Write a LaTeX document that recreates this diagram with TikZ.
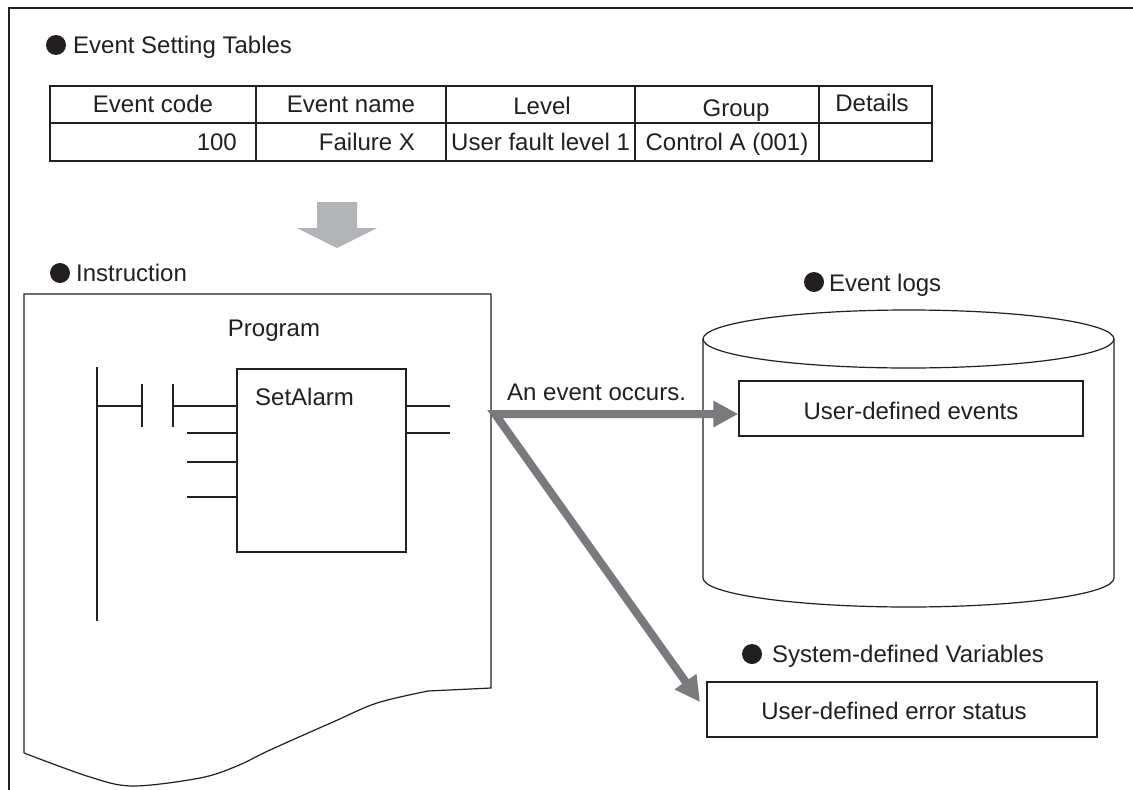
\documentclass[tikz,border=0pt]{standalone}
\usepackage{fontspec}
\setmainfont{Liberation Sans}
\usetikzlibrary{arrows.meta}
\definecolor{ink}{HTML}{231F20}
\definecolor{lgray}{HTML}{B2B4B7}
\definecolor{dgray}{HTML}{797A7E}
\begin{document}
\begin{tikzpicture}[x=1pt,y=-1pt,
  txt/.style={inner sep=0pt, text height=17.2pt, text depth=0pt, font=\fontsize{24}{28}\selectfont, text=ink},
  bul/.style={fill=ink, circle, inner sep=0pt, minimum size=20pt},
  tline/.style={draw=ink, line width=2.2pt},
  thinl/.style={draw=ink, line width=1.2pt},
  boxd/.style={draw=ink, line width=1.5pt},
  fbox/.style={draw=ink, line width=2pt},
  garrow/.style={draw=dgray, line width=8pt, line join=miter,
    {Triangle[length=25pt,width=25pt]}-{Triangle[length=25pt,width=25pt]}},
]
\useasboundingbox (0,0) rectangle (1133,790);
\fill[white] (0,0) rectangle (1133,790);
% outer frame
\draw[ink, line width=2.5pt] (9,790) -- (9,8) -- (1133,8);

% title 1
\node[bul] (b1) at (56,45) {};
\node[txt, anchor=west] (t1) at (73,45) {Event Setting Tables};

% table
\draw[tline] (50,86) rectangle (932,161);
\draw[tline] (50,123) -- (932,123);
\foreach \cx in {256,446,635,819} \draw[tline] (\cx,86) -- (\cx,161);
\node[txt] (h1) at (153,104) {Event code};
\node[txt] (h2) at (351,104) {Event name};
\node[txt] (h3) at (542,106) {Level};
\node[txt] (h4) at (736,108) {Group};
\node[txt] (h5) at (872,103) {Details};
\node[txt, anchor=east] (v1) at (237,142) {100};
\node[txt] (v2) at (367,142) {Failure X};
\node[txt, anchor=west] (v3) at (451,142) {User fault level 1};
\node[txt] (v4) at (727,142) {Control A (001)};

% down arrow
\fill[lgray] (317,202) -- (357,202) -- (357,228) -- (377,228) -- (337,248) -- (297,228) -- (317,228) -- cycle;

% instruction
\node[bul] (b2) at (60,273) {};
\node[txt, anchor=west] (t2) at (76,273) {Instruction};

% program sheet
\draw[thinl, line join=miter] (24,753) -- (24,294) -- (491,294) -- (491,688) -- (428,691)
  -- plot[smooth, tension=0.55] coordinates {(428,691) (377,703) (333,722) (270,750) (237,766) (200,778) (133,786) (90,777) (24,753)};
\node[txt] (prog) at (274,328) {Program};

% ladder
\draw[thinl] (97,367) -- (97,621);
\draw[thinl] (97,406) -- (142,406);
\draw[thinl] (142,384) -- (142,427);
\draw[thinl] (173,384) -- (173,427);
\draw[thinl] (173,406) -- (237,406);
\foreach \yy in {433,462,497} \draw[thinl] (187,\yy) -- (237,\yy);
\foreach \yy in {406,433} \draw[thinl] (406,\yy) -- (450,\yy);
\draw[fbox] (237,369) rectangle (406,552);
\node[txt, anchor=west] (sa) at (255,397) {SetAlarm};

% event logs cylinder
\node[bul] (b3) at (814,282) {};
\node[txt, anchor=west] (t3) at (829,283) {Event logs};
\draw[thinl] (703,339) -- (703,578) arc[start angle=180, end angle=0, x radius=205.5, y radius=29] -- (1114,339);
\draw[thinl] (908.5,339) ellipse[x radius=205.5, y radius=29];
\node[boxd, minimum width=344pt, minimum height=55pt, inner sep=0pt] (uev) at (911,408.5) {};
\node[txt] (uevt) at (911,411) {User-defined events};

% occurrence label
\node[txt, anchor=west] (occ) at (507,392) {An event occurs.};

% system-defined variables
\node[bul] (b4) at (752,654) {};
\node[txt, anchor=west] (t4) at (772,654) {System-defined Variables};
\node[boxd, minimum width=390pt, minimum height=55pt, inner sep=0pt] (err) at (902,709.5) {};
\node[txt] (errt) at (894,711) {User-defined error status};

% gray arrows
\coordinate (corner) at (495,414);
\coordinate (errtip) at (700,702);
\draw[garrow] (errtip) -- (corner) -- (uev.west |- corner);
\end{tikzpicture}
\end{document}
